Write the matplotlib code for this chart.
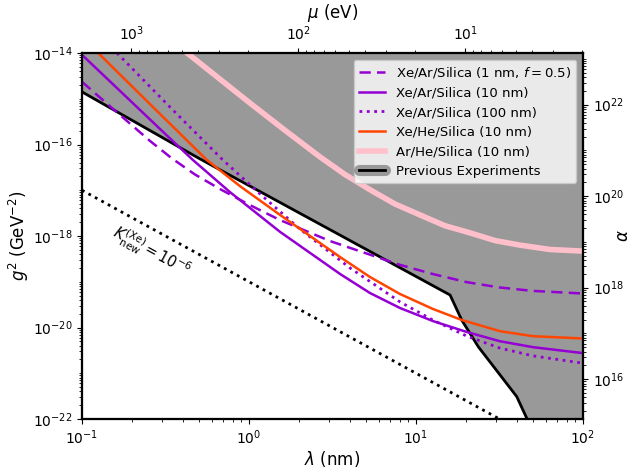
import numpy as np
import matplotlib
matplotlib.use("Agg")
import matplotlib.pyplot as plt
from matplotlib.lines import Line2D
from matplotlib.ticker import FixedLocator, LogLocator, NullFormatter

# ---- data (lambda in nm, g^2 in GeV^-2) ----
lam_prev = [0.1, 0.5, 16.0, 18.8, 23.6, 40.1, 46.0, 55.0, 100.0]
g2_prev = [10**-14.85, 10**-16.30, 10**-19.29, 10**-19.84, 10**-20.42, 10**-21.51, 10**-21.98,
           10**-22.6, 10**-24.7]

lam_xear_1 = [0.1, 0.16, 0.255, 0.346, 0.475, 0.670, 1.01, 1.53, 3.05, 8.0, 12.6, 20.2, 31.8,
              50.1, 100]
g2_xear_1 = [10**-14.63, 10**-15.28, 10**-15.92, 10**-16.306, 10**-16.656, 10**-16.973,
             10**-17.322, 10**-17.65, 10**-18.109, 10**-18.63, 10**-18.831, 10**-19.01,
             10**-19.126, 10**-19.20, 10**-19.257]

lam_xear_10 = [0.1, 0.169, 0.293, 0.462, 0.769, 1.535, 3.51, 5.30, 8.02, 12.65, 20.2, 31.8,
               50.2, 100]
g2_xear_10 = [10**-14.04, 10**-14.83, 10**-15.66, 10**-16.34, 10**-17.04, 10**-17.91, 10**-18.83,
              10**-19.246, 10**-19.574, 10**-19.86, 10**-20.10, 10**-20.30, 10**-20.43,
              10**-20.56]

lam_xear_100 = [0.162, 0.336, 0.698, 1.164, 2.02, 4.03, 8.02, 12.65, 20.2, 31.8, 50.2, 100]
g2_xear_100 = [10**-14.0, 10**-15.18, 10**-16.34, 10**-17.08, 10**-17.85, 10**-18.70, 10**-19.44,
               10**-19.84, 10**-20.19, 10**-20.45, 10**-20.62, 10**-20.78]

lam_xehe_10 = [0.125, 0.255, 0.560, 0.883, 1.535, 3.51, 5.30, 8.02, 12.65, 18.8, 31.8, 50.2, 100]
g2_xehe_10 = [10**-14.0, 10**-15.115, 10**-16.34, 10**-16.91, 10**-17.54, 10**-18.46,
              10**-18.896, 10**-19.268, 10**-19.596, 10**-19.836, 10**-20.08, 10**-20.19,
              10**-20.24]

lam_arhe_10 = [0.426, 1.01, 1.643, 2.66, 3.757, 5.31, 7.487, 10.57, 14.92, 21.0, 29.72, 42.0,
               63.45, 100]
g2_arhe_10 = [10**-14.0, 10**-15.09, 10**-15.69, 10**-16.27, 10**-16.656, 10**-16.99,
              10**-17.301, 10**-17.54, 10**-17.776, 10**-17.93, 10**-18.10, 10**-18.20,
              10**-18.295, 10**-18.33]

lam_knew = [0.1, 100]
g2_knew = [1e-17, 1e-23]

g2_major_ticks = [1e-22, 1e-20, 1e-18, 1e-16, 1e-14]
alpha_major_ticks = [1e16, 1e18, 1e20, 1e22]

labels = ["Xe/Ar/Silica (1 nm, $f = 0.5$)", "Xe/Ar/Silica (10 nm)", "Xe/Ar/Silica (100 nm)",
          "Xe/He/Silica (10 nm)", "Ar/He/Silica (10 nm)", "Previous Experiments"]

HBARC = 197.327  # eV nm
G_N = 6.708e-39  # GeV^-2
M_N = 0.9396     # GeV
C_ALPHA = 1.0 / (4 * np.pi * G_N * M_N**2)

LAM_MIN, LAM_MAX = 0.1, 100
G2_MIN, G2_MAX = 1e-22, 1e-14

fig = plt.figure(figsize=(6.41, 4.68), dpi=100)
ax = fig.add_axes([82/641, 1 - 419/468, (583-82)/641, (419-53)/468])
ax.set_xscale("log")
ax.set_yscale("log")
ax.set_xlim(LAM_MIN, LAM_MAX)
ax.set_ylim(G2_MIN, G2_MAX)

violet = "#9400D3"
ax.fill_between(lam_prev, g2_prev, G2_MAX, color="0.6", lw=0, zorder=1)
ax.plot(lam_prev, g2_prev, color="k", lw=2, zorder=3)

ax.plot(lam_xear_1, g2_xear_1, color=violet, lw=1.8, ls="--", dashes=(4.5, 2.5), zorder=4)
ax.plot(lam_xear_10, g2_xear_10, color=violet, lw=1.8, zorder=4)
ax.plot(lam_xear_100, g2_xear_100, color=violet, lw=2, ls=":", zorder=4)
ax.plot(lam_xehe_10, g2_xehe_10, color="#FF4500", lw=1.8, zorder=4)
ax.plot(lam_arhe_10, g2_arhe_10, color="pink", lw=4, zorder=4, solid_joinstyle="round")
ax.plot(lam_knew, g2_knew, color="k", lw=2, ls=":", zorder=4)

ax.text(0.26, 10**-18.35, r"$K_{\rm new}^{\rm (Xe)} = 10^{-6}$", rotation=-28.5,
        ha="center", va="center", fontsize=10.5)

ax.yaxis.set_major_locator(FixedLocator(g2_major_ticks))
ax.yaxis.set_minor_locator(LogLocator(base=10, subs=np.arange(1, 10), numticks=50))
ax.yaxis.set_minor_formatter(NullFormatter())

ax.set_xlabel(r"$\lambda$ (nm)", fontsize=12, labelpad=1)
ax.set_ylabel(r"$g^2$ (GeV$^{-2}$)", fontsize=12, labelpad=1)

# top axis: mu = hbar c / lambda
top = ax.twiny()
top.set_xscale("log")
top.set_xlim(HBARC / LAM_MIN, HBARC / LAM_MAX)
top.set_xlabel(r"$\mu$ (eV)", fontsize=12, labelpad=5)

# right axis: alpha = g^2 / (4 pi G m_n^2)
right = ax.twinx()
right.set_yscale("log")
right.set_ylim(G2_MIN * C_ALPHA, G2_MAX * C_ALPHA)
right.yaxis.set_major_locator(FixedLocator(alpha_major_ticks))
right.yaxis.set_minor_locator(LogLocator(base=10, subs=np.arange(1, 10), numticks=50))
right.yaxis.set_minor_formatter(NullFormatter())
right.set_ylabel(r"$\alpha$", fontsize=12)
right.yaxis.set_label_coords(1.062, 0.5)

handles = [
    Line2D([], [], color=violet, lw=1.8, ls="--", dashes=(4.5, 2.5)),
    Line2D([], [], color=violet, lw=1.8),
    Line2D([], [], color=violet, lw=2, ls=":"),
    Line2D([], [], color="#FF4500", lw=1.8),
    Line2D([], [], color="pink", lw=4),
    (Line2D([], [], color="0.6", lw=8, solid_capstyle="round"), Line2D([], [], color="k", lw=2)),
]
leg = right.legend(handles, labels, loc="upper right", fontsize=9.5)
leg.set_zorder(10)

for a in (ax, top, right):
    for s in a.spines.values():
        s.set_linewidth(1.5)

fig.savefig("out.png", dpi=100)
